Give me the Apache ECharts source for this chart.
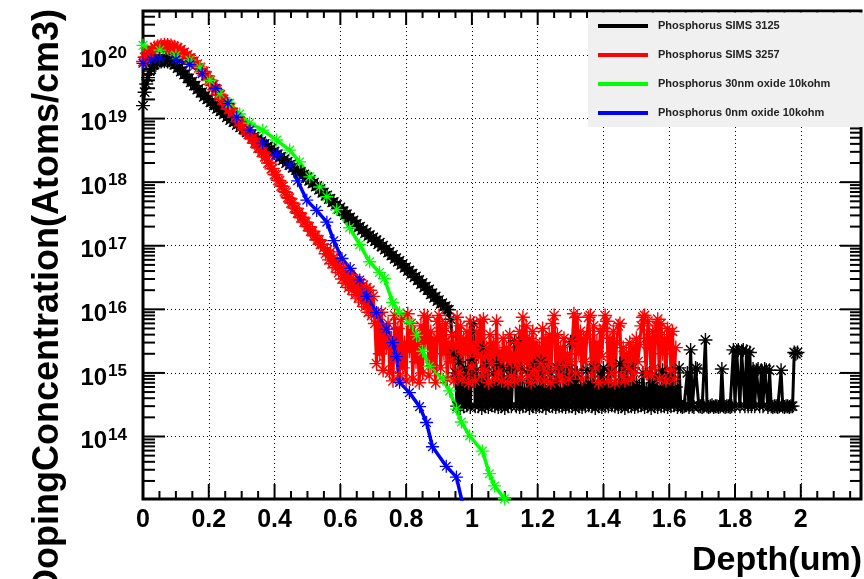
<!DOCTYPE html>
<html>
<head>
<meta charset="utf-8">
<script src="https://cdn.jsdelivr.net/npm/echarts@6/dist/echarts.min.js"></script>
<style>
html,body{margin:0;padding:0;background:#fff;}
#c{width:864px;height:579px;}
</style>
</head>
<body>
<div id="c"></div>
<script>
// ---------- data ----------
const seriesNames = ['Phosphorus SIMS 3125', 'Phosphorus SIMS 3257', 'Phosphorus 30nm oxide 10kohm', 'Phosphorus 0nm oxide 10kohm'];
const seriesColors = ['#000000', '#ff0000', '#00ff00', '#0000ff'];

// SIMS depth sampling (um)
const simsDepthStart = 0;
const simsDepthStep = 0.005;

// Phosphorus SIMS 3125 (atoms/cm3), depth 0 .. 1.99
const blackConc = [
  1.6e19, 2.6e19, 3.5e19, 4.4e19, 5.6e19, 6.0e19, 7.0e19, 7.1e19, 7.8e19, 7.6e19,
  8.2e19, 7.9e19, 8.5e19, 8.0e19, 8.6e19, 7.9e19, 8.3e19, 7.7e19, 7.8e19, 7.0e19,
  7.1e19, 6.2e19, 6.4e19, 5.5e19, 5.7e19, 4.9e19, 5.0e19, 4.3e19, 4.3e19, 3.7e19,
  3.8e19, 3.3e19, 3.3e19, 2.85e19, 2.95e19, 2.55e19, 2.6e19, 2.2e19, 2.3e19, 2.0e19,
  2.05e19, 1.8e19, 1.83e19, 1.6e19, 1.62e19, 1.42e19, 1.46e19, 1.3e19, 1.33e19, 1.17e19,
  1.2e19, 1.05e19, 1.09e19, 9.5e18, 9.9e18, 8.8e18, 9.0e18, 7.9e18, 8.2e18, 7.3e18,
  7.5e18, 6.7e18, 6.8e18, 6.1e18, 6.3e18, 5.6e18, 5.7e18, 5.1e18, 5.2e18, 4.6e18,
  4.8e18, 4.2e18, 4.4e18, 3.85e18, 4.0e18, 3.55e18, 3.65e18, 3.2e18, 3.35e18, 2.95e18,
  3.05e18, 2.7e18, 2.75e18, 2.45e18, 2.5e18, 2.2e18, 2.3e18, 2.0e18, 2.1e18, 1.85e18,
  1.9e18, 1.68e18, 1.73e18, 1.55e18, 1.6e18, 1.4e18, 1.45e18, 1.28e18, 1.32e18, 1.15e18,
  1.2e18, 1.05e18, 1.09e18, 9.5e17, 9.8e17, 8.5e17, 8.7e17, 7.6e17, 7.8e17, 6.8e17,
  6.9e17, 6.1e17, 6.2e17, 5.4e17, 5.5e17, 4.8e17, 4.9e17, 4.3e17, 4.4e17, 3.8e17,
  4.0e17, 3.5e17, 3.5e17, 3.1e17, 3.15e17, 2.7e17, 2.8e17, 2.4e17, 2.5e17, 2.15e17,
  2.2e17, 1.95e17, 2.0e17, 1.75e17, 1.8e17, 1.58e17, 1.63e17, 1.42e17, 1.47e17, 1.3e17,
  1.35e17, 1.18e17, 1.22e17, 1.05e17, 1.12e17, 9.7e16, 1.0e17, 8.7e16, 9.0e16, 7.8e16,
  8.0e16, 7.0e16, 7.2e16, 6.2e16, 6.4e16, 5.6e16, 5.8e16, 5.0e16, 5.2e16, 4.5e16,
  4.6e16, 4.0e16, 4.1e16, 3.6e16, 3.65e16, 3.2e16, 3.3e16, 2.85e16, 2.9e16, 2.5e16,
  2.6e16, 2.2e16, 2.3e16, 2.0e16, 2.05e16, 1.72e16, 1.8e16, 1.52e16, 1.6e16, 1.35e16,
  1.4e16, 1.22e16, 1.25e16, 1.1e16, 1.12e16, 1.0e16, 9.8e15,
  7.0e15, 4.0e15, 2.0e15, 1.0e15, 3.0e14, 1.5e15, 2.8e14, 9.0e14, 3.0e14, 1.2e15,
  3.1e14, 7.0e14, 2.9e14, 1.6e15, 6.0e15, 3.0e14, 1.1e15, 3.0e14, 8.0e14, 2.8e14,
  2.5e15, 3.0e14, 1.3e15, 2.9e14, 6.0e14, 3.1e14, 1.0e15, 3.0e14, 1.4e15, 2.9e14,
  8.0e14, 3.0e14, 1.2e15, 2.8e14, 6.5e14, 3.0e14, 9.0e14, 3.0e14, 1.1e15, 3.2e15,
  3.0e14, 7.0e14, 2.9e14, 1.2e15, 3.0e14, 5.5e14, 3.1e14, 1.0e15, 2.8e14, 7.5e14,
  3.0e14, 1.3e15, 2.9e14, 6.0e14, 3.0e14, 1.5e15, 3.0e14, 8.0e14, 2.8e14, 6.0e14,
  3.1e14, 1.0e15, 3.0e14, 7.0e14, 2.9e14, 1.2e15, 3.0e14, 5.5e14, 3.0e14, 9.0e14,
  2.9e14, 1.3e15, 3.0e14, 3.1e15, 3.0e14, 8.0e14, 2.8e14, 1.0e15, 3.0e14, 6.0e14,
  2.9e14, 6.5e14, 3.0e14, 1.1e15, 3.1e14, 7.0e14, 3.0e14, 1.2e15, 2.8e14, 6.0e14,
  3.0e14, 1.0e15, 2.9e14, 1.2e15, 3.0e14, 7.0e14, 3.0e14, 1.0e15, 3.1e14, 5.5e14,
  3.0e14, 6.0e14, 2.9e14, 1.4e15, 3.0e14, 8.0e14, 2.8e14, 1.1e15, 3.0e14, 6.5e14,
  3.0e14, 1.2e15, 2.9e14, 7.0e14, 3.0e14, 6.0e14, 3.1e14, 1.0e15, 2.9e14, 5.5e14,
  3.0e14, 1.0e15, 2.8e14, 7.0e14, 3.0e14, 9.0e14, 2.9e14, 6.0e14, 3.0e14, 1.1e15,
  3.0e14, 6.0e14, 2.9e14, 9.0e14, 3.0e14, 1.0e15, 3.1e14, 6.0e14, 2.9e14, 1.2e15,
  3.0e14, 2.9e14, 3.0e14, 3.1e14, 1.0e15, 2.9e14, 2.3e15, 3.0e14, 2.9e14, 1.2e15,
  1.15e15, 3.0e14, 3.0e14, 2.9e14, 3.0e14, 3.3e15, 3.0e14, 2.9e14, 3.0e14, 3.1e14,
  2.9e14, 3.0e14, 3.0e14, 2.9e14, 3.0e14, 1.15e15, 3.0e14, 2.9e14, 3.0e14, 3.0e14,
  2.9e14, 3.0e14, 2.3e15, 3.0e14, 2.2e15, 2.3e15, 3.0e14, 2.2e15, 2.3e15, 3.0e14,
  2.2e15, 3.0e14, 2.1e15, 3.0e14, 1.15e15, 3.0e14, 1.1e15, 1.15e15, 3.0e14, 1.1e15,
  3.0e14, 1.15e15, 1.1e15, 2.9e14, 1.1e15, 3.0e14, 2.9e14, 3.0e14, 3.0e14, 2.9e14,
  3.0e14, 1.1e15, 3.0e14, 2.9e14, 3.0e14, 3.0e14, 2.9e14, 3.0e14, 3.0e14, 2.1e15,
  2.0e15, 2.1e15
];

// Phosphorus SIMS 3257 (atoms/cm3), depth 0 .. 1.62
const redConc = [
  7.9e19, 9.2e19, 9.3e19, 1.1e20, 1.07e20, 1.22e20, 1.17e20, 1.31e20, 1.25e20, 1.37e20,
  1.31e20, 1.42e20, 1.34e20, 1.45e20, 1.36e20, 1.44e20, 1.34e20, 1.41e20, 1.3e20, 1.35e20,
  1.24e20, 1.29e20, 1.15e20, 1.21e20, 1.07e20, 1.1e20, 9.8e19, 1.0e20, 8.9e19, 9.0e19,
  7.9e19, 8.0e19, 7.0e19, 7.2e19, 6.3e19, 6.4e19, 5.5e19, 5.5e19, 4.7e19, 4.7e19,
  4.0e19, 4.0e19, 3.3e19, 3.4e19, 2.8e19, 2.85e19, 2.35e19, 2.35e19, 1.95e19, 2.0e19,
  1.65e19, 1.7e19, 1.4e19, 1.45e19, 1.22e19, 1.25e19, 1.05e19, 1.06e19, 8.9e18, 9.1e18,
  7.7e18, 7.8e18, 6.6e18, 6.6e18, 5.6e18, 5.7e18, 4.8e18, 4.9e18, 4.1e18, 4.1e18,
  3.45e18, 3.5e18, 2.95e18, 3.0e18, 2.5e18, 2.5e18, 2.0e18, 2.0e18, 1.62e18, 1.65e18,
  1.32e18, 1.3e18, 1.07e18, 1.05e18, 8.7e17, 8.6e17, 7.1e17, 6.9e17, 5.7e17, 5.6e17,
  4.7e17, 4.7e17, 3.9e17, 3.9e17, 3.25e17, 3.3e17, 2.75e17, 2.8e17, 2.35e17, 2.35e17,
  2.0e17, 2.0e17, 1.7e17, 1.7e17, 1.43e17, 1.45e17, 1.23e17, 1.24e17, 1.05e17, 1.05e17,
  9.3e16, 7.5e16, 8.5e16, 6.0e16, 8.0e16, 5.2e16, 6.5e16, 4.5e16, 6.0e16, 3.8e16,
  5.0e16, 3.0e16, 4.5e16, 2.6e16, 3.8e16, 2.2e16, 3.5e16, 2.0e16, 3.0e16, 1.7e16,
  2.8e16, 1.5e16, 2.6e16, 1.3e16, 2.4e16, 1.1e16, 2.2e16, 9.0e15, 2.0e16, 8.0e15, 1.6e16,
  6.0e15, 1.4e15, 8.5e15, 2.0e15, 9.0e15, 1.1e15, 4.5e15, 2.5e15, 6.0e15, 1.0e15,
  3.5e15, 7.5e14, 8.0e15, 1.8e15, 5.0e15, 9.0e14, 7.0e15, 1.2e15, 3.0e15, 7.5e14,
  8.5e15, 2.2e15, 6.0e15, 8.0e14, 4.0e15, 1.5e15, 2.8e15, 7.0e14, 5.5e15, 1.0e15,
  8.0e15, 3.0e15, 7.5e15, 9.0e14, 4.5e15, 1.3e15, 3.5e15, 7.0e14, 6.5e15, 8.0e15,
  1.2e15, 5.0e15, 2.0e15, 6.0e15, 8.0e14, 3.0e15, 1.5e15, 4.0e15, 7.5e14, 2.5e15,
  7.5e15, 1.0e15, 5.5e15, 8.0e14, 3.5e15, 2.0e15, 4.5e15, 7.0e14, 6.5e15, 1.2e15,
  3.0e15, 7.5e14, 4.5e15, 1.8e15, 6.5e15, 9.0e14, 7.0e15, 1.1e15, 2.5e15, 7.0e14,
  4.0e15, 1.4e15, 3.0e15, 8.0e14, 6.5e15, 1.0e15, 2.2e15, 7.5e14, 3.5e15, 1.6e15,
  2.5e15, 7.0e14, 4.0e15, 9.0e14, 2.0e15, 7.5e14, 3.0e15, 1.2e15, 4.5e15, 8.0e14,
  7.5e15, 1.5e15, 5.5e15, 9.0e14, 3.5e15, 7.0e14, 4.5e15, 1.1e15, 3.0e15, 8.0e14,
  2.5e15, 1.4e15, 5.0e15, 7.5e14, 3.5e15, 1.0e15, 4.0e15, 7.0e14, 6.0e15, 8.0e15,
  1.2e15, 4.0e15, 9.0e14, 2.5e15, 7.5e14, 3.5e15, 1.3e15, 2.0e15, 8.0e14, 1.5e15,
  3.0e15, 8.5e15, 1.0e15, 7.5e15, 2.0e15, 4.5e15, 8.0e14, 3.5e15, 1.5e15, 4.0e15,
  7.5e15, 8.0e15, 9.0e14, 5.5e15, 1.2e15, 3.0e15, 7.0e14, 4.5e15, 1.8e15, 5.0e15,
  8.0e15, 6.5e15, 7.5e14, 3.5e15, 1.0e15, 4.5e15, 7.0e14, 3.0e15, 5.5e15, 6.0e15,
  9.0e14, 2.5e15, 7.5e14, 2.0e15, 1.2e15, 3.0e15, 8.0e14, 2.5e15, 1.0e15, 3.5e15,
  1.5e15, 2.8e15, 5.5e15, 7.5e15, 8.0e15, 1.0e15, 6.5e15, 3.5e15, 9.0e14, 4.5e15,
  1.2e15, 5.5e15, 7.0e15, 8.0e14, 6.0e15, 2.0e15, 3.5e15, 7.5e14, 5.0e15, 4.0e15,
  1.1e15, 4.5e15, 8.0e14, 2.5e15
];

// Phosphorus 30nm oxide 10kohm
const greenDepth = [0, 0.051, 0.100, 0.142, 0.173, 0.203, 0.234, 0.264, 0.294, 0.324,
  0.364, 0.406, 0.446, 0.476, 0.507, 0.537, 0.559, 0.589, 0.628, 0.659,
  0.689, 0.719, 0.734, 0.759, 0.780, 0.810, 0.832, 0.850, 0.871, 0.911,
  0.932, 0.953, 0.968, 0.993, 1.032, 1.053, 1.069, 1.099, 1.114];
const greenConc = [1.42e20, 1.19e20, 9.9e19, 8.3e19, 6.4e19, 4.0e19, 2.5e19, 1.75e19, 1.18e19, 8.5e18,
  6.6e18, 4.6e18, 3.2e18, 2.08e18, 1.21e18, 8.4e17, 5.9e17, 3.7e17, 1.92e17, 1.04e17,
  5.6e16, 3.8e16, 3.05e16, 1.28e16, 8.9e15, 6.2e15, 3.9e15, 2.19e15, 1.27e15, 8.0e14,
  5.2e14, 2.7e14, 1.69e14, 1.02e14, 5.9e13, 2.6e13, 1.67e13, 1.05e13, 7.9e12];

// Phosphorus 0nm oxide 10kohm
const blueDepth = [0, 0.025, 0.05, 0.10, 0.142, 0.18, 0.221, 0.258, 0.285, 0.325,
  0.364, 0.406, 0.446, 0.47, 0.498, 0.528, 0.559, 0.58, 0.605, 0.63,
  0.659, 0.68, 0.71, 0.74, 0.759, 0.771, 0.78, 0.81, 0.841, 0.862,
  0.88, 0.922, 0.953, 0.975];
const blueConc = [7.4e19, 8.5e19, 8.9e19, 8.5e19, 7.1e19, 5.1e19, 3.0e19, 1.74e19, 1.05e19, 6.6e18,
  4.1e18, 2.7e18, 1.86e18, 1.05e18, 5.2e17, 3.6e17, 2.35e17, 1.2e17, 6.3e16, 4.4e16,
  2.9e16, 1.6e16, 8.9e15, 4.9e15, 3.0e15, 1.8e15, 7.1e14, 4.9e14, 2.95e14, 1.66e14,
  6.9e13, 3.4e13, 2.3e13, 7.4e12];

// axis ranges and ticks
const X_MIN = 0, X_MAX = 2.183;
const Y_MIN = 1.04e13, Y_MAX = 4.92e20;
const xMajorStep = 0.2, xMinorStep = 0.05;
const yDecades = [13, 14, 15, 16, 17, 18, 19, 20];
const yMinorMultipliers = [1, 2, 3, 4, 5, 6, 7, 8, 9];

// ---------- build ----------
const FONT = '"Liberation Sans", Arial, Helvetica, sans-serif';
const STAR = 'path://M0,10.8H24V13.2H0Z M10.8,0H13.2V24H10.8Z M3.15,4.85L4.85,3.15L20.85,19.15L19.15,20.85Z M19.15,3.15L20.85,4.85L4.85,20.85L3.15,19.15Z';

const simsPoints = (arr) => arr.map((c, i) => [+(simsDepthStart + i * simsDepthStep).toFixed(4), c]);
const blackData = simsPoints(blackConc);
const redData = simsPoints(redConc);
const greenData = greenDepth.map((d, i) => [d, greenConc[i]]);
const blueData = blueDepth.map((d, i) => [d, blueConc[i]]);

const yTickData = [];
yDecades.forEach(d => yMinorMultipliers.forEach(m => {
  const v = m * Math.pow(10, d);
  if (v >= Y_MIN && v <= Y_MAX) yTickData.push([X_MIN, v, m === 1 ? 1 : 0]);
}));
const xTickData = [];
for (let i = 0; i * xMinorStep <= X_MAX + 1e-9; i++) {
  xTickData.push([+(i * xMinorStep).toFixed(3), Y_MIN, (i % Math.round(xMajorStep / xMinorStep)) === 0 ? 1 : 0]);
}

const TICK_W = 2;
function yTickRender(params, api) {
  const v = api.value(1), major = api.value(2) === 1;
  const l = api.coord([X_MIN, v]);
  const r = api.coord([X_MAX, v]);
  const lenL = major ? 22 : 12, lenR = major ? 21 : 11;
  return { type: 'group', children: [
    { type: 'line', shape: { x1: l[0], y1: l[1], x2: l[0] + lenL, y2: l[1] }, style: { stroke: '#000', lineWidth: TICK_W } },
    { type: 'line', shape: { x1: r[0], y1: r[1], x2: r[0] - lenR, y2: r[1] }, style: { stroke: '#000', lineWidth: TICK_W } }
  ]};
}
function xTickRender(params, api) {
  const v = api.value(0), major = api.value(2) === 1;
  const b = api.coord([v, Y_MIN]);
  const t = api.coord([v, Y_MAX]);
  const lenB = major ? 15 : 8, lenT = major ? 14 : 7;
  return { type: 'group', children: [
    { type: 'line', shape: { x1: b[0], y1: b[1], x2: b[0], y2: b[1] - lenB }, style: { stroke: '#000', lineWidth: TICK_W } },
    { type: 'line', shape: { x1: t[0], y1: t[1], x2: t[0], y2: t[1] + lenT }, style: { stroke: '#000', lineWidth: TICK_W } }
  ]};
}

function lineSeries(idx, data, lw, ms) {
  return {
    name: seriesNames[idx], type: 'line', data: data,
    symbol: STAR, symbolSize: ms, showSymbol: true,
    lineStyle: { color: seriesColors[idx], width: lw },
    itemStyle: { color: seriesColors[idx], borderWidth: 0 },
    emphasis: { disabled: true }, silent: true, clip: true, z: 2
  };
}

const chart = echarts.init(document.getElementById('c'), null, { renderer: 'canvas' });
chart.setOption({
  animation: false,
  backgroundColor: '#ffffff',
  grid: { left: 143, right: 2, top: 11, bottom: 80, show: true, borderColor: '#000', borderWidth: 3, backgroundColor: 'transparent' },
  xAxis: {
    type: 'value', min: X_MIN, max: X_MAX, interval: xMajorStep,
    axisLine: { show: false }, axisTick: { show: false },
    axisLabel: {
      margin: 9, color: '#000', fontSize: 25, fontWeight: 'bold', fontFamily: FONT,
      formatter: v => { const k = Math.round(v / xMajorStep); return Math.abs(v - k * xMajorStep) > 1e-6 ? '' : String(+(k * xMajorStep).toFixed(1)); }
    },
    splitLine: { show: true, lineStyle: { color: '#000', width: 1, type: [1, 3] } }
  },
  yAxis: {
    type: 'log', logBase: 10, min: Y_MIN, max: Y_MAX, splitNumber: 8,
    axisLine: { show: false }, axisTick: { show: false },
    axisLabel: {
      margin: 16, color: '#000', verticalAlign: 'middle', padding: [4, 0, 0, 0],
      formatter: v => { const e = Math.log10(v); const r = Math.round(e); return Math.abs(e - r) > 1e-6 ? '' : '{b|10}{e|' + r + '}'; },
      rich: {
        b: { fontSize: 24, fontWeight: 'bold', fontFamily: FONT, color: '#000', lineHeight: 24, padding: [6, 0, 0, 0] },
        e: { fontSize: 17, fontWeight: 'bold', fontFamily: FONT, color: '#000', lineHeight: 17, verticalAlign: 'top', padding: [0, 0, 0, 1] }
      }
    },
    splitLine: { show: true, lineStyle: { color: '#000', width: 1, type: [1, 3] } }
  },
  legend: {
    data: seriesNames, orient: 'vertical', left: 588, top: 12, padding: [7, 10, 6, 10],
    itemWidth: 50, itemHeight: 4, itemGap: 15, icon: 'rect', selectedMode: false, z: 10,
    textStyle: { fontSize: 11, fontWeight: 'bold', fontFamily: FONT, color: '#222', lineHeight: 14, padding: [0, 0, 0, 5] }
  },
  graphic: [
    { type: 'rect', z: 5, silent: true, shape: { x: 588, y: 12.5, width: 276, height: 114.5 }, style: { fill: '#f0f0f0' } },
    { type: 'text', z: 5, silent: true, x: 862, y: 561,
      style: { text: 'Depth(um)', font: 'bold 34px ' + FONT, fill: '#000', textAlign: 'right', textVerticalAlign: 'middle', align: 'right', verticalAlign: 'middle' } },
    { type: 'text', z: 5, silent: true, x: 48, y: 9, rotation: Math.PI / 2,
      style: { text: 'DopingConcentration(Atoms/cm3)', font: 'bold 36px ' + FONT, fill: '#000', textAlign: 'right', textVerticalAlign: 'middle', align: 'right', verticalAlign: 'middle' } }
  ],
  series: [
    { type: 'custom', name: 'xticks', data: xTickData, renderItem: xTickRender, silent: true, z: 1 },
    { type: 'custom', name: 'yticks', data: yTickData, renderItem: yTickRender, silent: true, z: 1 },
    lineSeries(0, blackData, 3, 14),
    lineSeries(1, redData, 3, 14),
    lineSeries(2, greenData, 3.5, 13),
    lineSeries(3, blueData, 3.5, 13)
  ]
});
</script>
</body>
</html>
